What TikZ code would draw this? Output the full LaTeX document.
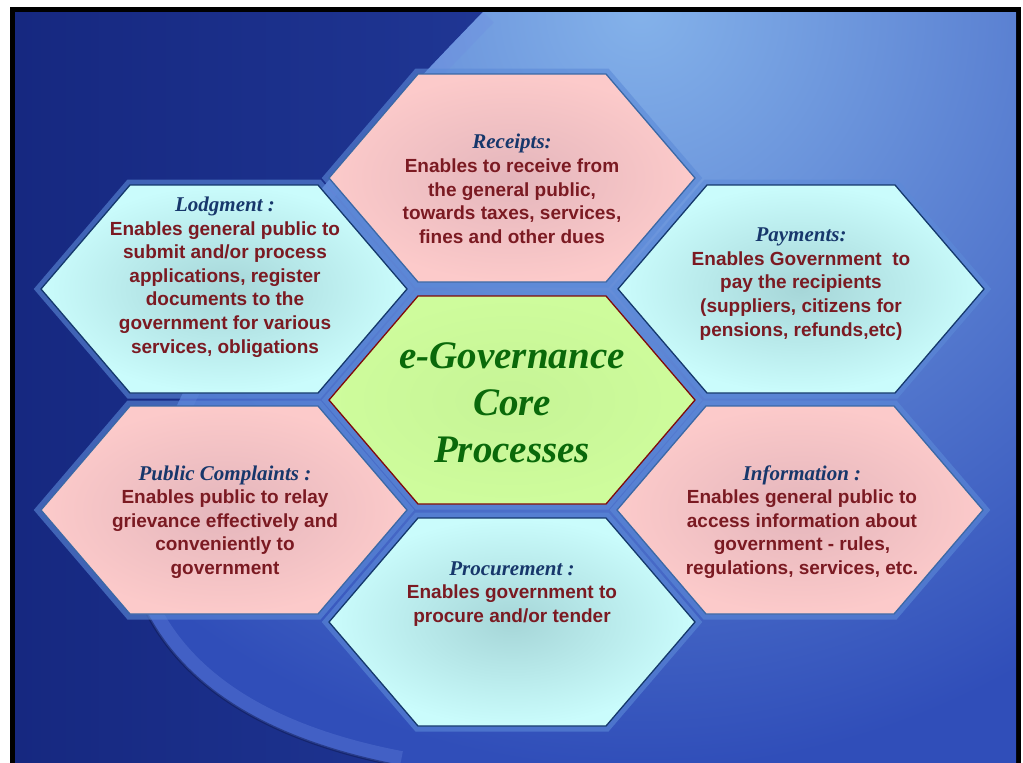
\documentclass[tikz,border=0pt]{standalone}
\usepackage{fontspec}
\setmainfont{Liberation Sans}
\newfontfamily\titlefont{Liberation Serif}
\usetikzlibrary{calc}
\definecolor{navyL}{RGB}{22,40,128}
\definecolor{navyR}{RGB}{42,70,170}
\definecolor{skyin}{RGB}{132,178,234}
\definecolor{skyout}{RGB}{48,78,185}
\definecolor{glowc}{RGB}{110,140,225}
\definecolor{shadowc}{RGB}{15,25,80}
\definecolor{haloc}{RGB}{92,138,216}
\definecolor{pinkout}{RGB}{252,202,202}
\definecolor{pinkin}{RGB}{228,182,188}
\definecolor{pinkedge}{RGB}{58,104,166}
\definecolor{cyanout}{RGB}{202,252,252}
\definecolor{cyanin}{RGB}{166,214,216}
\definecolor{cyanedge}{RGB}{20,56,108}
\definecolor{greenout}{RGB}{206,252,156}
\definecolor{greenin}{RGB}{198,244,150}
\definecolor{greenedge}{RGB}{128,10,10}
\definecolor{bodyc}{RGB}{123,26,34}
\definecolor{titlec}{RGB}{23,55,107}
\definecolor{corec}{RGB}{10,105,10}
\tikzset{
  hexshape/.style={insert path={++(-183,0) -- ++(89,-104) -- ++(188,0) -- ++(89,104) -- ++(-89,104) -- ++(-188,0) -- cycle}},
  hexhalo/.style={draw=haloc, line width=11pt, draw opacity=0.6, line join=miter},
  pinkhex/.style={inner color=pinkin, outer color=pinkout, draw=pinkedge, line width=1.3pt},
  cyanhex/.style={inner color=cyanin, outer color=cyanout, draw=cyanedge, line width=1.3pt},
  greenhex/.style={inner color=greenin, outer color=greenout, draw=greenedge, line width=1.3pt},
  desc/.style={align=center, inner sep=0pt, text=bodyc, font=\bfseries\fontsize{19}{23.6}\selectfont},
  coretext/.style={align=center, inner sep=0pt, text=corec, font=\titlefont\bfseries\itshape\fontsize{39}{47}\selectfont},
}
\newcommand{\ttl}[1]{{\titlefont\itshape\color{titlec}\fontsize{21}{23.6}\selectfont #1}}
\begin{document}
\begin{tikzpicture}[x=1pt,y=-1pt]
\useasboundingbox (0,0) rectangle (1023,763);
\fill[white] (0,0) rectangle (1023,763);
\fill[black] (10,7) rectangle (1021,763);
\begin{scope}
  \clip (15,12) rectangle (1016,762);
  \shade[left color=navyL, right color=navyR] (15,12) rectangle (1016,762);
  \begin{scope}
    \clip (483,12) .. controls (300,200) and (100,430) .. (145,610) .. controls (190,700) and (290,745) .. (400,766) -- (1016,766) -- (1016,12) -- cycle;
    \fill[skyout] (0,0) rectangle (1023,766);
    \shade[inner color=skyin, outer color=skyout] (640,10) circle (760);
    \draw[glowc, line width=30pt, opacity=0.3] (483,12) .. controls (300,200) and (100,430) .. (145,610) .. controls (190,700) and (290,745) .. (400,766);
  \end{scope}
  \draw[shadowc, line width=2.5pt, opacity=0.5] (145,610) .. controls (190,700) and (290,745) .. (400,766);
\end{scope}

\coordinate (rec) at (512,178);
\coordinate (core) at (512,400);
\coordinate (proc) at (512,622);
\coordinate (lodg) at (224,289);
\coordinate (pay) at (801,289);
\coordinate (comp) at (224,510);
\coordinate (info) at (800,510);

\foreach \c in {rec,core,proc,lodg,pay,comp,info}{
  \draw[hexhalo] (\c) [hexshape];
}
\shadedraw[pinkhex] (rec) [hexshape];
\shadedraw[pinkhex] (comp) [hexshape];
\shadedraw[pinkhex] (info) [hexshape];
\shadedraw[cyanhex] (lodg) [hexshape];
\shadedraw[cyanhex] (pay) [hexshape];
\shadedraw[cyanhex] (proc) [hexshape];
\shadedraw[greenhex] (core) [hexshape];

\node[desc] (recT) at (512,189) {\ttl{Receipts:}\\Enables to receive from\\the general public,\\towards taxes, services,\\fines and other dues};
\node[desc] (lodgT) at (225,277) {\ttl{Lodgment :}\\Enables general public to\\submit and/or process\\applications, register\\documents to the\\government for various\\services, obligations};
\node[desc] (payT) at (801,284) {\ttl{Payments:}\\Enables Government~ to\\pay the recipients\\(suppliers, citizens for\\pensions, refunds,etc)};
\node[desc] (compT) at (225,522) {\ttl{Public Complaints :}\\Enables public to relay\\grievance effectively and\\conveniently to\\government};
\node[desc] (infoT) at (802,522) {\ttl{Information :}\\Enables general public to\\access information about\\government - rules,\\regulations, services, etc.};
\node[desc] (procT) at (512,594) {\ttl{Procurement :}\\Enables government to\\procure and/or tender};
\node[coretext] (coreT) at (512,403) {e-Governance\\Core\\Processes};
\end{tikzpicture}
\end{document}
